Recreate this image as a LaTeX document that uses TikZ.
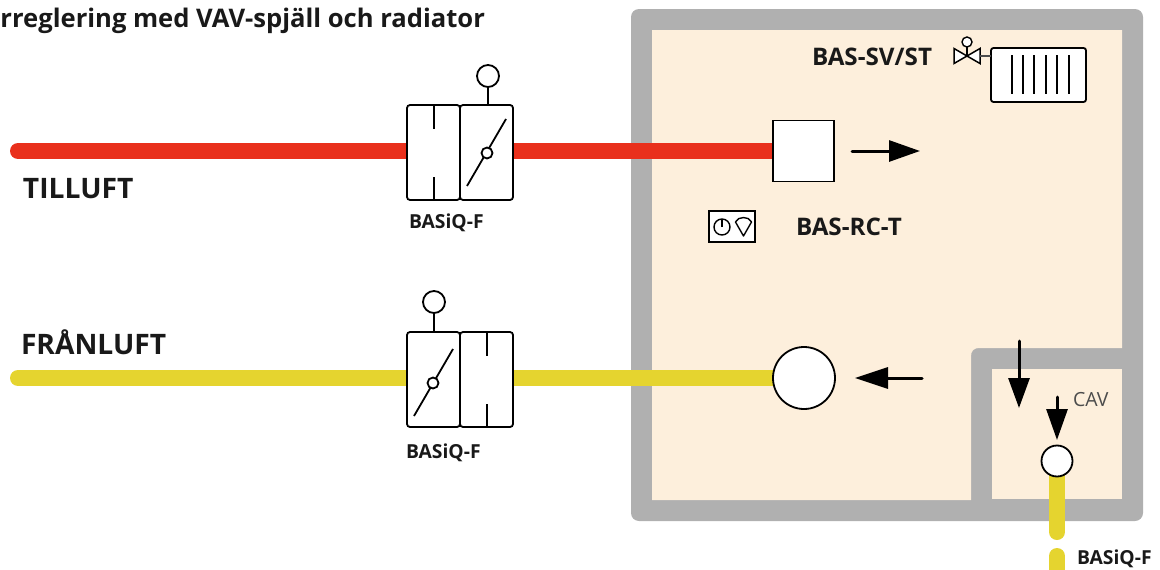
\documentclass[tikz,border=0pt]{standalone}
\usepackage{fontspec}
\setmainfont{Open Sans}
\usetikzlibrary{arrows.meta,calc}
\definecolor{wallgray}{HTML}{B0B0B0}
\definecolor{roomcream}{HTML}{FDEFDC}
\definecolor{pipered}{HTML}{E9301C}
\definecolor{pipeyellow}{HTML}{E5D42F}
\tikzset{
  x=1pt,y=-1pt,
  every node/.style={inner sep=0pt,outer sep=0pt},
  lbl/.style={font=\bfseries\fontsize{19.3}{22}\selectfont,text=black!90},
  biglbl/.style={font=\bfseries\fontsize{28.2}{32}\selectfont,text=black!90},
  midlbl/.style={font=\bfseries\fontsize{24.2}{28}\selectfont,text=black!90},
  pipe/.style={line width=16pt,line cap=round},
  sym/.style={draw=black,line width=1.8pt,fill=white},
  unitbox/.style={sym,rounded corners=3pt,minimum width=53pt,minimum height=95pt},
  squarebox/.style={sym,minimum width=61pt,minimum height=61pt},
  circ/.style={sym,circle,minimum size=#1},
  flow/.style={line width=3pt,line cap=round,draw=black,-{Triangle[length=#1,width=21pt]}},
  mark line/.style={line width=1.8pt,draw=black}
}
\begin{document}
\begin{tikzpicture}
\useasboundingbox (0,0) rectangle (1160,570);
% building
\fill[wallgray,rounded corners=8pt] (631,9) rectangle (1143,521);
\fill[roomcream] (652,30) -- (1122,30) -- (1122,348) -- (979,348) .. controls (974,348) and (971,351) .. (971,356) -- (971,500) -- (652,500) -- cycle;
\fill[roomcream] (992,369) rectangle (1122,499);
\coordinate (redstart) at (18,151);
\coordinate (yellowstart) at (18,378);
\coordinate (cavend) at (1057,532);
\coordinate (cavlow) at (1057,556);
\coordinate (cavlowend) at (1057,580);
% symbols, placed to name them for the pipes
\coordinate (lt) at (433.5,152.5);
\coordinate (rt) at (486.5,152.5);
\coordinate (lb) at (433.5,379.5);
\coordinate (rb) at (486.5,379.5);
\coordinate (supply) at (803.5,151);
\coordinate (exhaust) at (804,378);
\coordinate (cav) at (1057,461);
% pipes
\draw[pipe,pipered] (redstart) -- (redstart -| lt);
\draw[pipe,pipered,line cap=butt] (redstart -| rt) -- (supply);
\draw[pipe,pipeyellow] (yellowstart) -- (yellowstart -| lb);
\draw[pipe,pipeyellow,line cap=butt] (yellowstart -| rb) -- (exhaust);
\draw[pipe,pipeyellow] (cav) -- (cavend);
\draw[pipe,pipeyellow] (cavlow) -- (cavlowend);
% symbols on top of the pipe ends
\node[unitbox] (ltbox) at (lt) {};
\node[unitbox] (rtbox) at (rt) {};
\node[unitbox] (lbbox) at (lb) {};
\node[unitbox] (rbbox) at (rb) {};
\node[squarebox] (supplybox) at (supply) {};
\node[circ=62pt] (exhaustfan) at (exhaust) {};
\node[circ=31pt] (cavbox) at (cav) {};
% supply unit
\draw[mark line] (434,105) -- (434,129) (434,177) -- (434,200);
\node[circ=22pt] (acttop) at (488,76) {};
\draw[mark line] (acttop.south) -- (488,105);
\draw[mark line] (467,186) -- (506,119);
\node[circ=11pt] (pivtop) at (487,153) {};
% exhaust unit
\draw[mark line] (487,332) -- (487,356) (487,404) -- (487,427);
\node[circ=22pt] (actbot) at (434,302) {};
\draw[mark line] (actbot.south) -- (434,332);
\draw[mark line] (414,416) -- (453,349);
\node[circ=11pt] (pivbot) at (433,383) {};
% flow arrows
\draw[flow=31pt] (852,151) -- (920,151);
\draw[flow=33pt] (922,378) -- (855,378);
\draw[flow=30pt] (1019,341) -- (1019,408);
\draw[flow=31pt] (1057,397) -- (1057,440);
% radiator
\node[sym,rounded corners=2.5pt,minimum width=95pt,minimum height=54pt] (rad) at (1038.5,75) {};
\foreach \xx in {1012,1023,1034,1046,1057,1069}
  \draw[line width=1.5pt] (\xx,55) -- (\xx,94);
% valve
\draw[sym,line width=1.5pt,line join=miter] (954,48.5) -- (980,63.5) -- (980,48.5) -- (954,63.5) -- cycle;
\coordinate (valvecentre) at (967,56);
\node[sym,line width=1.4pt,circle,minimum size=10pt] (valvetop) at (967,42) {};
\draw[line width=1.4pt] (valvetop.south) -- (valvecentre);
\draw[line width=1.2pt,black!70] (980,56) -- (rad.west |- 0,56);
% room controller
\node[sym,line width=1.6pt,minimum width=46pt,minimum height=31pt] (rc) at (732,226.5) {};
\node[draw=black,line width=1.4pt,circle,minimum size=16pt] (clock) at (722,227) {};
\draw[line width=1.4pt] (clock.center) -- (clock.north);
\draw[line width=1.4pt,line join=round] (743.5,236) -- (735.5,222) .. controls (738,216) and (749,216) .. (751.5,222) -- cycle;
% labels
\node[anchor=west,font=\bfseries\fontsize{25.6}{28}\selectfont,text=black!90] (title) at (0.5,21) {rreglering med VAV-spjäll och radiator};
\node[biglbl,anchor=west] (til) at (23,189) {TILLUFT};
\node[biglbl,anchor=west] (fran) at (21,342) {FRÅNLUFT};
\node[lbl,anchor=west] (b1) at (409,223) {BASiQ-F};
\node[lbl,anchor=west] (b2) at (406,453) {BASiQ-F};
\node[lbl,anchor=west] (b3) at (1077,559) {BASiQ-F};
\node[midlbl,anchor=west] (sv) at (812,57) {BAS-SV/ST};
\node[midlbl,anchor=west] (rct) at (796,227) {BAS-RC-T};
\node[anchor=west,font=\fontsize{19.5}{22}\selectfont,text=black!70] (cavt) at (1073,400) {CAV};
\end{tikzpicture}
\end{document}
